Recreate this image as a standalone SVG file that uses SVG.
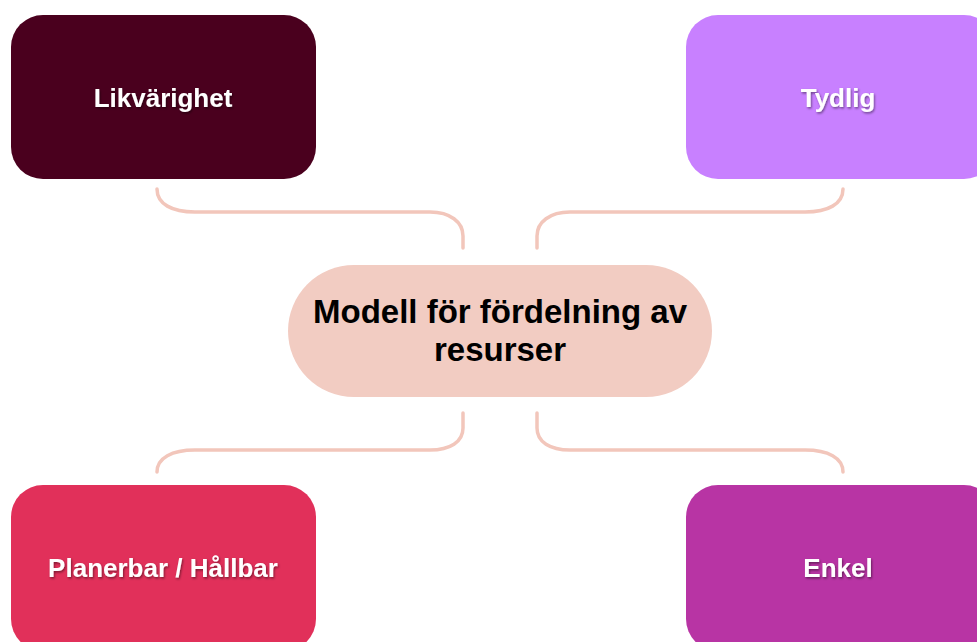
<svg xmlns="http://www.w3.org/2000/svg" width="977" height="642" viewBox="0 0 977 642">
  <defs>
    <filter id="sh" x="-10%" y="-30%" width="120%" height="160%">
      <feDropShadow dx="1" dy="1.5" stdDeviation="1" flood-color="#000" flood-opacity="0.45"/>
    </filter>
  </defs>
  <style>
    .lbl { font-family: "Liberation Sans", Arial, sans-serif; font-weight: bold; font-size: 26px; fill: #ffffff; text-anchor: middle; }
    .ctr { font-family: "Liberation Sans", Arial, sans-serif; font-weight: bold; font-size: 33px; fill: #000000; text-anchor: middle; }
    .conn { fill: none; stroke: #F2C6BB; stroke-width: 3.5; stroke-linecap: round; }
  </style>
  <rect width="977" height="642" fill="#ffffff"/>
  <g id="connectors">
    <path class="conn" d="M157,189 C157,204 172,212 195,212 L430,212 C450,212 463,222 463,236 L463,248"/>
    <path class="conn" d="M843,189 C843,204 828,212 805,212 L570,212 C550,212 537,222 537,236 L537,248"/>
    <path class="conn" d="M463,413 L463,428 C463,442 450,450 430,450 L195,450 C172,450 157,458 157,472"/>
    <path class="conn" d="M537,413 L537,428 C537,442 550,450 570,450 L805,450 C828,450 843,458 843,472"/>
  </g>
  <g id="node-center">
    <rect x="288" y="265" width="424" height="132" rx="66" ry="66" fill="#F2CCC2"/>
    <text class="ctr" x="500" y="323">Modell för fördelning av</text>
    <text class="ctr" x="500" y="361">resurser</text>
  </g>
  <g id="node-likvarighet">
    <rect x="11" y="15" width="305" height="164" rx="32" ry="32" fill="#4A001E"/>
    <text class="lbl" x="163" y="107" filter="url(#sh)">Likvärighet</text>
  </g>
  <g id="node-tydlig">
    <rect x="686" y="15" width="310" height="164" rx="32" ry="32" fill="#C880FF"/>
    <text class="lbl" x="838" y="107" filter="url(#sh)">Tydlig</text>
  </g>
  <g id="node-planerbar">
    <rect x="11" y="485" width="305" height="166" rx="32" ry="32" fill="#E1305A"/>
    <text class="lbl" x="163" y="577" filter="url(#sh)">Planerbar / Hållbar</text>
  </g>
  <g id="node-enkel">
    <rect x="686" y="485" width="310" height="166" rx="32" ry="32" fill="#B834A4"/>
    <text class="lbl" x="838" y="577" filter="url(#sh)">Enkel</text>
  </g>
</svg>
